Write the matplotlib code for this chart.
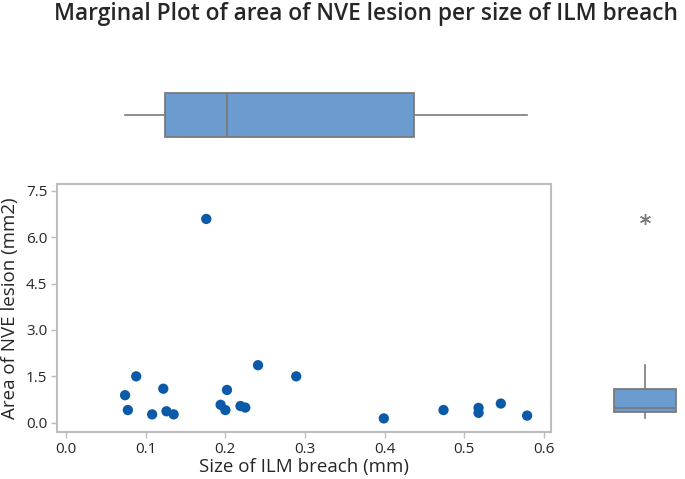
import matplotlib
matplotlib.use("Agg")
import matplotlib.pyplot as plt
import numpy as np

plt.rcParams['font.family'] = ['Open Sans', 'DejaVu Sans']

# data
size_ilm = [0.074, 0.0775, 0.088, 0.108, 0.122, 0.126, 0.135, 0.176, 0.194, 0.202,
            0.200, 0.219, 0.225, 0.241, 0.289, 0.399, 0.474, 0.518, 0.518, 0.546, 0.579]
area_nve = [0.89, 0.41, 1.50, 0.27, 1.10, 0.37, 0.27, 6.59, 0.58, 1.06,
            0.41, 0.54, 0.49, 1.86, 1.50, 0.14, 0.41, 0.48, 0.32, 0.62, 0.23]
x_ticks = [0.0, 0.1, 0.2, 0.3, 0.4, 0.5, 0.6]
y_ticks = [0.0, 1.5, 3.0, 4.5, 6.0, 7.5]

DOT = '#0a5aa8'
BOXFILL = '#6b9bcf'
BOXEDGE = '#7a7a7a'
FRAME = '#bdbdbd'
TXT = '#262626'


def minitab_stats(v):
    # quartiles the Minitab way ((n+1)p)
    v = np.sort(np.asarray(v))
    q1, med, q3 = np.percentile(v, [25, 50, 75], method='weibull')
    iqr = q3 - q1
    lo = v[v >= q1 - 1.5 * iqr].min()
    hi = v[v <= q3 + 1.5 * iqr].max()
    fl = v[(v < lo) | (v > hi)]
    return [dict(med=med, q1=q1, q3=q3, whislo=lo, whishi=hi, fliers=fl)]


W, H = 685, 479
fig = plt.figure(figsize=(W / 100, H / 100), dpi=100)


def rect(l, t, r, b):
    return [l / W, 1 - b / H, (r - l) / W, (b - t) / H]


ax = fig.add_axes(rect(57, 184, 551, 432))
ax_top = fig.add_axes(rect(57, 70, 551, 160), sharex=ax)
ax_right = fig.add_axes(rect(600, 184, 690, 432), sharey=ax)

ax.scatter(size_ilm, area_nve, s=55, color=DOT, edgecolors='none', zorder=3)
ax.set_xlim(-0.0115, 0.609)
ax.set_ylim(-0.30, 7.72)
ax.set_xticks(x_ticks)
ax.set_yticks(y_ticks)
ax.set_xticklabels(['%.1f' % t for t in x_ticks])
ax.set_yticklabels(['%.1f' % t for t in y_ticks])
for s in ax.spines.values():
    s.set_color(FRAME)
    s.set_linewidth(1.5)
ax.tick_params(colors=FRAME, labelcolor=TXT, labelsize=11, length=4, width=1, pad=3)
ax.set_xlabel('Size of ILM breach (mm)', fontsize=13.5, color=TXT, labelpad=1)
ax.set_ylabel('Area of NVE lesion (mm2)', fontsize=13.5, color=TXT, labelpad=5)

box_style = dict(patch_artist=True, showcaps=False, widths=0.68,
                 boxprops=dict(facecolor=BOXFILL, edgecolor=BOXEDGE, linewidth=1.3),
                 medianprops=dict(color=BOXEDGE, linewidth=1.3),
                 whiskerprops=dict(color=BOXEDGE, linewidth=1.2),
                 flierprops=dict(marker=(6, 2, 0), markersize=8, markeredgecolor=BOXEDGE,
                                 markeredgewidth=1.0, markerfacecolor=BOXEDGE))

ax_top.bxp(minitab_stats(size_ilm), vert=False, positions=[0], **box_style)
ax_top.set_ylim(-0.7, 0.7)
ax_top.axis('off')

ax_right.bxp(minitab_stats(area_nve), vert=True, positions=[0], **box_style)
ax_right.set_xlim(-0.49, 0.49)
ax_right.axis('off')

fig.text(366 / W, 1 - 14 / H, 'Marginal Plot of area of NVE lesion per size of ILM breach',
         ha='center', va='center', fontsize=16.4, fontweight='semibold', color=TXT)

fig.savefig('out.png', dpi=100)
